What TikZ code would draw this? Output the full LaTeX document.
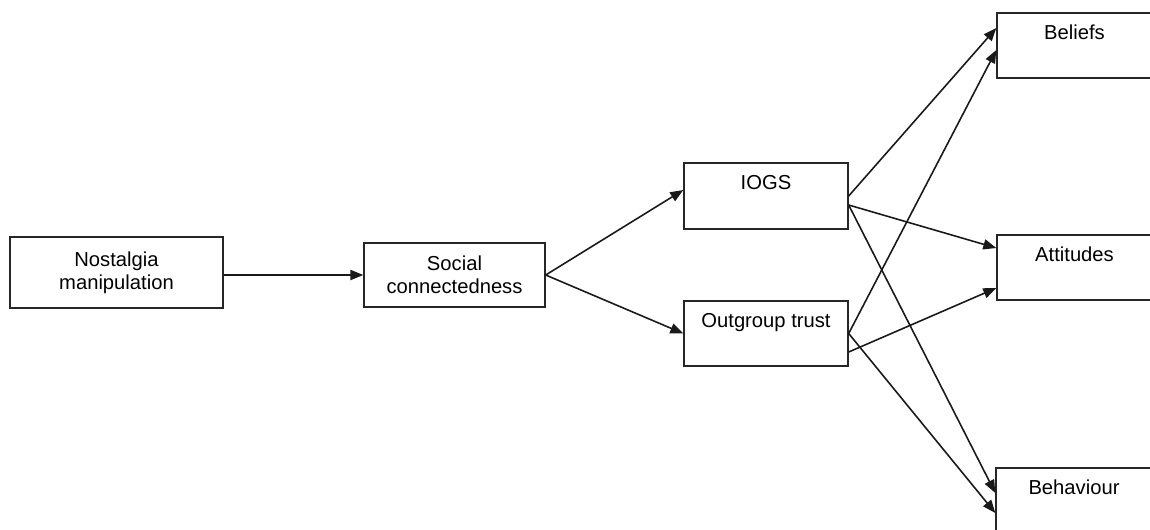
\documentclass[tikz,border=0pt]{standalone}
\usepackage{fontspec}
\setmainfont{Liberation Sans}
\usetikzlibrary{arrows.meta}

\tikzset{
  box/.style={draw=black!85, line width=0.8pt, align=center,
    font=\fontsize{11.5}{13}\selectfont},
  topbox/.style={box, minimum width=#1, minimum height=1.30cm,
    inner ysep=6.8pt, text height=8.2pt, text depth=15.05pt},
  link/.style={draw=black!90, line width=0.9pt,
    -{Triangle[length=7.4pt,width=5.8pt]}}
}

\begin{document}
\begin{tikzpicture}[x=0.02cm, y=-0.02cm]
    \useasboundingbox (0,0) rectangle (1150,529);

    % Boxes
    \node[box, minimum width=4.26cm, minimum height=1.42cm] (nost) at (116.5,272.5) {Nostalgia\\manipulation};
    \node[box, minimum width=3.62cm, minimum height=1.28cm] (soc) at (454.5,275) {Social\\connectedness};
    \node[topbox=3.28cm, minimum height=1.32cm] (iogs) at (766,196) {IOGS};
    \node[topbox=3.28cm] (trust) at (766,333.5) {Outgroup trust};
    \node[topbox=3.10cm] (beliefs) at (1074.5,45.5) {Beliefs};
    \node[topbox=3.10cm] (attitudes) at (1074.5,267.5) {Attitudes};
    \node[topbox=3.12cm] (behaviour) at (1074,500.5) {Behaviour};

    % Left part
    \draw[link] (soc.west -| nost.east) -- (soc.west);
    \draw[link] (soc.east) -- ([yshift=0.12cm]iogs.west);
    \draw[link] (soc.east) -- (trust.west);

    % From IOGS
    \draw[link] (iogs.east) -- ([yshift=0.35cm]beliefs.west);
    \draw[link] ([yshift=-0.18cm]iogs.east) -- ([yshift=0.39cm]attitudes.west);
    \draw[link] ([yshift=-0.18cm]iogs.east) -- ([yshift=0.15cm]behaviour.west);

    % From outgroup trust
    \draw[link] (trust.east) -- ([yshift=-0.09cm]beliefs.west);
    \draw[link] ([yshift=-0.37cm]trust.east) -- ([yshift=-0.41cm]attitudes.west);
    \draw[link] (trust.east) -- ([yshift=-0.25cm]behaviour.west);
\end{tikzpicture}
\end{document}
